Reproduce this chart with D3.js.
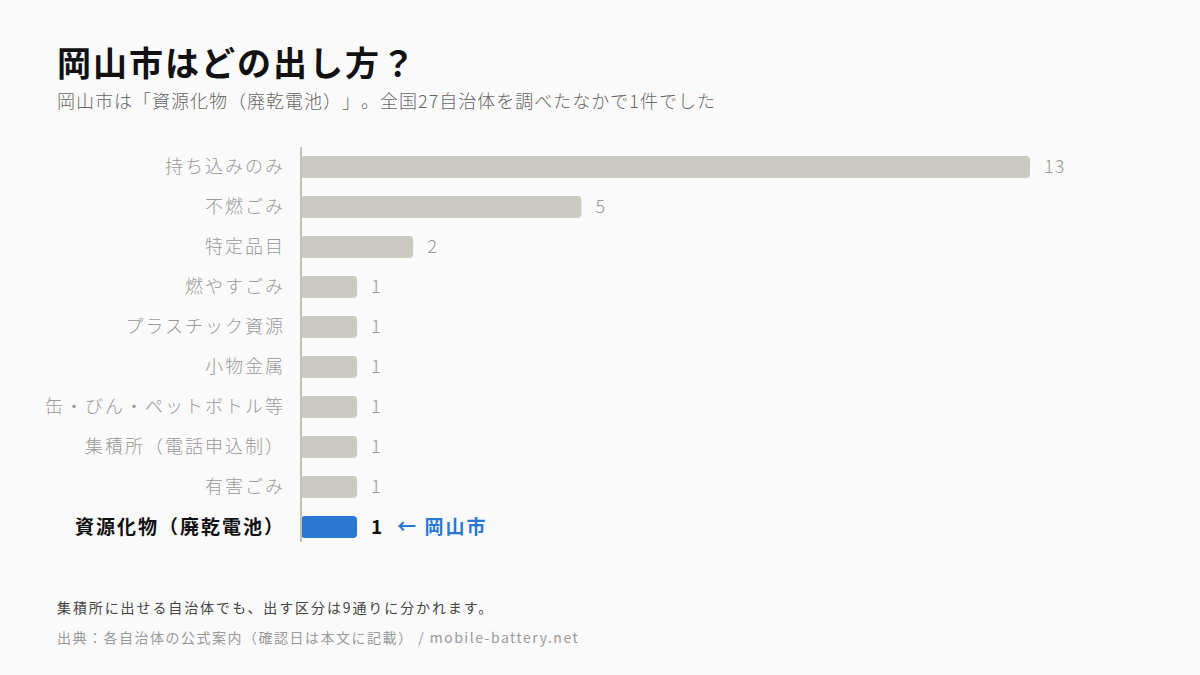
<!DOCTYPE html>
<html lang="ja">
<head>
<meta charset="utf-8" />
<title>岡山市はどの出し方？</title>
<script src="https://cdn.jsdelivr.net/npm/d3@7"></script>
<style>
  html, body { margin: 0; padding: 0; background: #fafafa; }
  svg { display: block; font-family: "Noto Sans CJK JP", "Noto Sans", sans-serif; text-spacing-trim: space-all; }
</style>
</head>
<body>
<svg id="chart" width="1200" height="675"></svg>
<script>
// data
const categories = ["持ち込みのみ", "不燃ごみ", "特定品目", "燃やすごみ", "プラスチック資源", "小物金属", "缶・びん・ペットボトル等", "集積所（電話申込制）", "有害ごみ", "資源化物（廃乾電池）"];
const counts = [13, 5, 2, 1, 1, 1, 1, 1, 1, 1];
const highlight = "資源化物（廃乾電池）";

const svg = d3.select("#chart");
const width = 1200, height = 675;

svg.append("rect").attr("width", width).attr("height", height).attr("fill", "#fafafa");

// title + subtitle
svg.append("text")
  .attr("x", 57).attr("y", 76)
  .attr("font-size", "34px").attr("font-weight", "700").attr("fill", "#111")
  .attr("letter-spacing", "2px")
  .text("岡山市はどの出し方？");
svg.append("text")
  .attr("x", 57).attr("y", 108)
  .attr("font-size", "18px").attr("font-weight", "300").attr("fill", "#666")
  .attr("letter-spacing", "1px")
  .text("岡山市は「資源化物（廃乾電池）」。全国27自治体を調べたなかで1件でした");

const rows = categories.map((c, i) => ({ cat: c, n: counts[i] }));

const x = d3.scaleLinear()
  .domain([0, d3.max(counts)])
  .range([301, 1030]);

const y = d3.scaleBand()
  .domain(categories)
  .range([147, 547])
  .paddingInner(0.45)
  .paddingOuter(0.225);

// bars
svg.append("g")
  .selectAll("rect")
  .data(rows)
  .join("rect")
    .attr("x", x(0))
    .attr("y", d => y(d.cat))
    .attr("width", d => x(d.n) - x(0))
    .attr("height", y.bandwidth())
    .attr("rx", 4)
    .attr("fill", d => d.cat === highlight ? "#2b78d2" : "#cbcac2");

// baseline
svg.append("line")
  .attr("x1", x(0)).attr("x2", x(0))
  .attr("y1", 147).attr("y2", 542)
  .attr("stroke", "#c3c1b6").attr("stroke-width", 2);

// category labels
svg.append("g")
  .selectAll("text")
  .data(rows)
  .join("text")
    .attr("x", 285)
    .attr("y", d => y(d.cat) + y.bandwidth() / 2)
    .attr("dy", "0.36em")
    .attr("text-anchor", "end")
    .attr("letter-spacing", "2px")
    .attr("font-size", d => d.cat === highlight ? "19px" : "18px")
    .attr("font-weight", d => d.cat === highlight ? "700" : "300")
    .attr("fill", d => d.cat === highlight ? "#111" : "#999")
    .text(d => d.cat);

// value labels
svg.append("g")
  .selectAll("text")
  .data(rows)
  .join("text")
    .attr("x", d => x(d.n) + 14)
    .attr("y", d => y(d.cat) + y.bandwidth() / 2)
    .attr("dy", "0.36em")
    .attr("letter-spacing", "1px")
    .attr("font-size", d => d.cat === highlight ? "19px" : "18px")
    .attr("font-weight", d => d.cat === highlight ? "700" : "300")
    .attr("fill", d => d.cat === highlight ? "#111" : "#999")
    .text(d => d.n);

// callout
const hl = rows.find(d => d.cat === highlight);
svg.append("text")
  .attr("x", x(hl.n) + 40)
  .attr("y", y(hl.cat) + y.bandwidth() / 2)
  .attr("dy", "0.36em")
  .attr("letter-spacing", "2px")
  .attr("font-size", "19px").attr("font-weight", "700").attr("fill", "#2b78d2")
  .text("← 岡山市");

// footnotes
svg.append("text")
  .attr("x", 57).attr("y", 613)
  .attr("font-size", "14px").attr("fill", "#444")
  .attr("letter-spacing", "1.9px")
  .text("集積所に出せる自治体でも、出す区分は9通りに分かれます。");
svg.append("text")
  .attr("x", 57).attr("y", 643)
  .attr("font-size", "14px").attr("fill", "#999")
  .attr("letter-spacing", "1.5px")
  .text("出典：各自治体の公式案内（確認日は本文に記載） / mobile-battery.net");
</script>
</body>
</html>
